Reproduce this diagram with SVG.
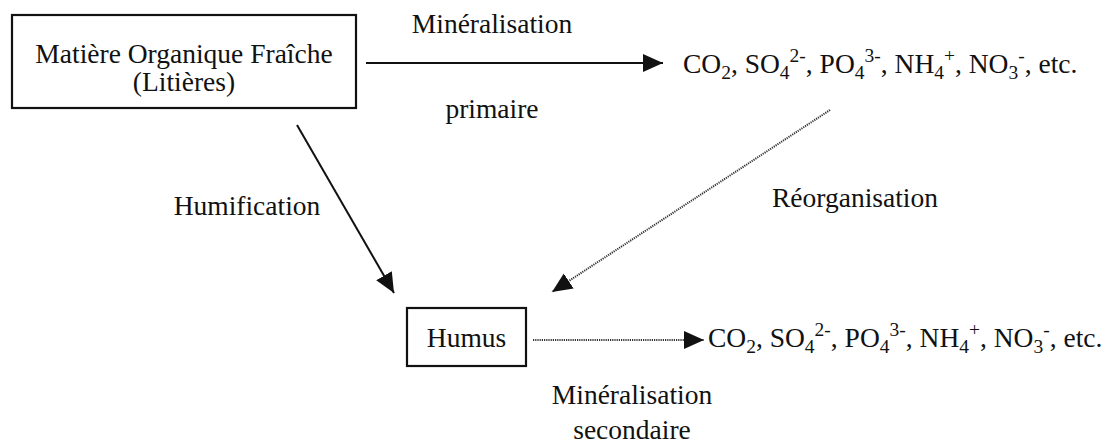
<svg xmlns="http://www.w3.org/2000/svg" width="1117" height="448" viewBox="0 0 1117 448">
<style>
text{font-family:"Liberation Serif","Times New Roman",serif;font-size:27.5px;fill:#111}
.box{fill:#fff;stroke:#111;stroke-width:2.2}
.solid{fill:none;stroke:#111;stroke-width:2}
.dot{fill:none;stroke:#333;stroke-width:2;stroke-dasharray:1.2 1}
.s{font-size:19.5px}
</style>
<defs>
<marker id="ah" markerUnits="userSpaceOnUse" markerWidth="22" markerHeight="20" refX="20" refY="9" orient="auto">
<path d="M0,0 L20,9 L0,18 Z" fill="#111"/>
</marker>
</defs>
<rect width="1117" height="448" fill="#fff"/>
<g id="connectors">
<line class="solid" x1="366" y1="63" x2="663" y2="63" marker-end="url(#ah)"/>
<line class="solid" x1="297" y1="125" x2="394" y2="293" marker-end="url(#ah)"/>
<line class="dot" x1="830" y1="110" x2="552" y2="292" marker-end="url(#ah)"/>
<line class="dot" x1="533" y1="340" x2="704" y2="340" marker-end="url(#ah)"/>
</g>
<g id="mof">
<rect class="box" x="12" y="15" width="344" height="93"/>
<text x="184" y="63" text-anchor="middle">Matière Organique Fraîche</text>
<text x="184" y="91" text-anchor="middle">(Litières)</text>
</g>
<g id="mineraux1">
<text x="683" y="73">CO<tspan class="s" dy="6">2</tspan><tspan dy="-6">, SO</tspan><tspan class="s" dy="6">4</tspan><tspan class="s" dy="-17">2-</tspan><tspan dy="11">, PO</tspan><tspan class="s" dy="6">4</tspan><tspan class="s" dy="-17">3-</tspan><tspan dy="11">, NH</tspan><tspan class="s" dy="6">4</tspan><tspan class="s" dy="-17">+</tspan><tspan dy="11">, NO</tspan><tspan class="s" dy="6">3</tspan><tspan class="s" dy="-17">-</tspan><tspan dy="11">, etc.</tspan></text>
</g>
<g id="humus">
<rect class="box" x="407" y="308" width="119" height="58"/>
<text x="466.5" y="347" text-anchor="middle">Humus</text>
</g>
<g id="mineraux2">
<text x="708" y="347">CO<tspan class="s" dy="6">2</tspan><tspan dy="-6">, SO</tspan><tspan class="s" dy="6">4</tspan><tspan class="s" dy="-17">2-</tspan><tspan dy="11">, PO</tspan><tspan class="s" dy="6">4</tspan><tspan class="s" dy="-17">3-</tspan><tspan dy="11">, NH</tspan><tspan class="s" dy="6">4</tspan><tspan class="s" dy="-17">+</tspan><tspan dy="11">, NO</tspan><tspan class="s" dy="6">3</tspan><tspan class="s" dy="-17">-</tspan><tspan dy="11">, etc.</tspan></text>
</g>
<g id="labels">
<text x="492" y="33" text-anchor="middle">Minéralisation</text>
<text x="492" y="118" text-anchor="middle">primaire</text>
<text x="247" y="215" text-anchor="middle">Humification</text>
<text x="855" y="207" text-anchor="middle">Réorganisation</text>
<text x="632" y="404" text-anchor="middle">Minéralisation</text>
<text x="632" y="439" text-anchor="middle">secondaire</text>
</g>
</svg>
